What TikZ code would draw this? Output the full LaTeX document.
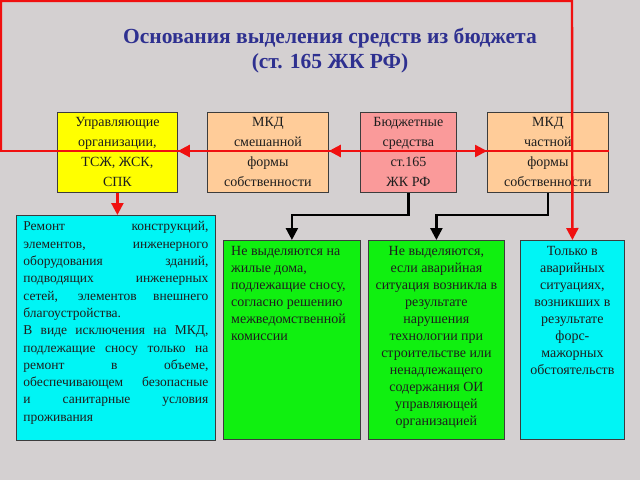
\documentclass[tikz,border=0pt]{standalone}
\usepackage{fontspec}
\setmainfont{Liberation Serif}
\usetikzlibrary{arrows.meta}
\definecolor{bg}{HTML}{D4D0D1}
\definecolor{boxedge}{HTML}{3C3C3C}
\definecolor{ink}{HTML}{1E1E1E}
\definecolor{titleblue}{HTML}{2E3090}
\definecolor{framered}{HTML}{F01010}
\definecolor{yellowbox}{HTML}{FFFF00}
\definecolor{peachbox}{HTML}{FFCC99}
\definecolor{pinkbox}{HTML}{FA9A9A}
\definecolor{cyanbox}{HTML}{00F5F5}
\definecolor{greenbox}{HTML}{10F010}
\tikzset{
  box/.style={draw=boxedge,line width=0.8pt,inner sep=0pt,anchor=north west},
  topbox/.style={box,minimum height=80pt,align=center,text=ink,font=\fontsize{14}{20}\selectfont},
  bodytext/.style={inner sep=0pt,text=ink,font=\fontsize{14}{17}\selectfont},
  redline/.style={draw=framered,line width=2.4pt},
  blackline/.style={draw=black,line width=2.4pt},
  tip/.style={-{Triangle[length=12pt,width=12pt]}},
}
\begin{document}
\begin{tikzpicture}[x=1pt,y=-1pt]
\useasboundingbox[fill=bg] (0,0) rectangle (640,480);
\node[font=\bfseries\fontsize{21.5}{25}\selectfont,text=titleblue,align=center] (title) at (330,51) {Основания выделения средств из бюджета\\(ст. 165 ЖК РФ)};
% upper row
\node[topbox,fill=yellowbox,minimum width=120pt] (mgmt) at (57,112) {Управляющие\\организации,\\ТСЖ, ЖСК,\\СПК};
\node[topbox,fill=peachbox,minimum width=121pt] (mixed) at (207,112) {МКД\\смешанной\\формы\\собственности};
\node[topbox,fill=pinkbox,minimum width=96pt] (budget) at (360,112) {Бюджетные\\средства\\ст.165\\ЖК РФ};
\node[topbox,fill=peachbox,minimum width=121pt] (pvt) at (487,112) {МКД\\частной\\формы\\собственности};
% lower row
\node[box,fill=cyanbox,minimum width=199pt,minimum height=225pt] (repair) at (16,215) {};
\node[box,fill=greenbox,minimum width=137pt,minimum height=199pt] (demol) at (223,240) {};
\node[box,fill=greenbox,minimum width=136pt,minimum height=199pt] (accid) at (368,240) {};
\node[box,fill=cyanbox,minimum width=104pt,minimum height=199pt] (only) at (520,240) {};
\node[bodytext,font=\fontsize{13.5}{17.3}\selectfont,anchor=north,text width=185pt,align=justify] (repairtxt) at ([yshift=-6.5pt]repair.north) {Ремонт конструкций,\linebreak элементов, инженерного\linebreak оборудования зданий,\linebreak подводящих инженерных\linebreak сетей, элементов внешнего\linebreak благоустройства.\par В виде исключения на МКД,\linebreak подлежащие сносу только на\linebreak ремонт в объеме,\linebreak обеспечивающем безопасные\linebreak и санитарные условия\linebreak проживания};
\node[bodytext,anchor=north west,align=left] (demoltxt) at ([xshift=8pt,yshift=-6.5pt]demol.north west) {Не выделяются на\\жилые дома,\\подлежащие сносу,\\согласно решению\\межведомственной\\комиссии};
\node[bodytext,anchor=north,align=center] (accidtxt) at ([yshift=-6.5pt]accid.north) {Не выделяются,\\если аварийная\\ситуация возникла в\\результате\\нарушения\\технологии при\\строительстве или\\ненадлежащего\\содержания ОИ\\управляющей\\организацией};
\node[bodytext,anchor=north,align=center] (onlytxt) at ([yshift=-6.5pt]only.north) {Только в\\аварийных\\ситуациях,\\возникших в\\результате\\форс-\\мажорных\\обстоятельств};
% black connectors
\draw[blackline,tip] (budget.south) -- (budget.south |- repair.north) -| (demol.north);
\draw[blackline,tip] (pvt.south) -- (pvt.south |- repair.north) -| (accid.north);
% red frame and arrows
\coordinate (fL) at (1,151);
\coordinate (fTL) at (1,1);
\coordinate (fTR) at (572,1);
\coordinate (fR) at (0,151);
\draw[redline,tip] (fL) -- (fTL) -- (fTR) -- (only.north);
\draw[redline] (fR) -- (pvt.east |- fR);
\draw[redline,tip] (mixed.west |- fR) -- (mgmt.east |- fR);
\draw[redline,tip] (budget.center |- fR) -- (mixed.east |- fR);
\draw[redline,tip] (budget.center |- fR) -- (pvt.west |- fR);
\draw[redline,tip] (mgmt.south) -- (mgmt.south |- repair.north);
\end{tikzpicture}
\end{document}
